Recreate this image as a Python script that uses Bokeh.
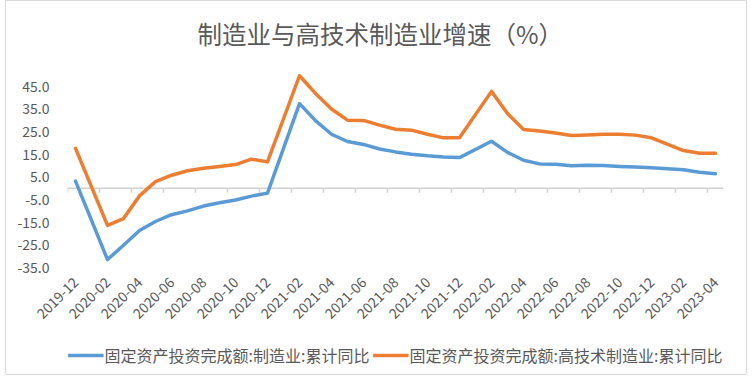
import math
from bokeh.plotting import figure
from bokeh.layouts import column
from bokeh.models import (FixedTicker, Legend, LegendItem, Range1d)
from bokeh.embed import file_html
from bokeh.resources import INLINE

title_text = "制造业与高技术制造业增速（%）"
series_names = ["固定资产投资完成额:制造业:累计同比", "固定资产投资完成额:高技术制造业:累计同比"]

months = [
    "2019-12",
    "2020-01", "2020-02", "2020-03", "2020-04", "2020-05", "2020-06",
    "2020-07", "2020-08", "2020-09", "2020-10", "2020-11", "2020-12",
    "2021-01", "2021-02", "2021-03", "2021-04", "2021-05", "2021-06",
    "2021-07", "2021-08", "2021-09", "2021-10", "2021-11", "2021-12",
    "2022-01", "2022-02", "2022-03", "2022-04", "2022-05", "2022-06",
    "2022-07", "2022-08", "2022-09", "2022-10", "2022-11", "2022-12",
    "2023-01", "2023-02", "2023-03", "2023-04",
]

manufacturing = [
    3.1,
    None, -31.5, -25.2, -18.7, -14.7, -11.7,
    -10.0, -7.9, -6.4, -5.2, -3.5, -2.2,
    None, 37.3, 29.8, 23.8, 20.6, 19.3,
    17.3, 16.0, 15.0, 14.3, 13.8, 13.5,
    None, 20.7, 15.8, 12.3, 10.7, 10.5,
    9.9, 10.1, 10.0, 9.6, 9.3, 9.0,
    None, 8.1, 7.0, 6.4,
]

hightech = [
    17.6,
    None, -16.4, -13.4, -3.4, 2.9, 5.7,
    7.7, 8.8, 9.6, 10.4, 12.8, 11.6,
    None, 49.6, 41.8, 34.9, 30.0, 29.9,
    27.8, 26.0, 25.6, 23.8, 22.2, 22.2,
    None, 42.7, 32.9, 25.9, 25.2, 24.3,
    23.2, 23.5, 23.8, 23.8, 23.4, 22.2,
    None, 16.6, 15.4, 15.4,
]

y_ticks = [-35, -25, -15, -5, 5, 15, 25, 35, 45]

blue = "#5B9BD5"
orange = "#ED7D31"
text_gray = "#595959"
axis_gray = "#D0D0D0"
font = "Noto Sans CJK SC"
colors = [blue, orange]


def present(vals):
    xs = [i for i, v in enumerate(vals) if v is not None]
    ys = [v for v in vals if v is not None]
    return xs, ys


n = len(months)
p = figure(width=740, height=335, output_backend="svg", toolbar_location=None,
           x_range=Range1d(-0.5, n - 0.5), y_range=Range1d(-35, 55),
           min_border_left=61, min_border_right=23, min_border_top=59, min_border_bottom=69)
p.outline_line_color = None
p.grid.visible = False
p.background_fill_color = "white"
p.border_fill_color = "white"

p.title.text = title_text
p.title.align = "left"
p.title.text_font = font
p.title.text_font_size = "24.5px"
p.title.text_font_style = "normal"
p.title.text_color = text_gray
p.title.offset = 130
p.title.standoff = 25

# category axis line at zero, with tick marks at every second category boundary
tick_pos = [i - 0.5 for i in range(0, n, 2)]
p.segment(x0=[-0.5], y0=[0], x1=[n - 0.5], y1=[0], line_color=axis_gray, line_width=1.5)
p.segment(x0=tick_pos, y0=[0] * len(tick_pos), x1=tick_pos, y1=[-2.0] * len(tick_pos),
          line_color=axis_gray, line_width=1.5)

series_xy = []
for vals, c in zip([manufacturing, hightech], colors):
    xs, ys = present(vals)
    series_xy.append((xs, ys))
    p.line(xs, ys, line_color=c, line_width=3.5, line_join="round", line_cap="round")

label_idx = list(range(0, n, 2))
p.xaxis.ticker = FixedTicker(ticks=label_idx)
p.xaxis.major_label_overrides = {i: months[i] for i in label_idx}
p.xaxis.major_label_orientation = math.pi / 4
p.xaxis.axis_line_color = None
p.xaxis.major_tick_line_color = None
p.xaxis.minor_tick_line_color = None
p.xaxis.major_label_text_font = font
p.xaxis.major_label_text_font_size = "14px"
p.xaxis.major_label_text_color = text_gray
p.xaxis.major_label_standoff = 6

p.yaxis.ticker = FixedTicker(ticks=y_ticks)
p.yaxis.major_label_overrides = {t: f"{t:.1f}" for t in y_ticks}
p.yaxis.axis_line_color = None
p.yaxis.major_tick_line_color = None
p.yaxis.minor_tick_line_color = None
p.yaxis.major_label_text_font = font
p.yaxis.major_label_text_font_size = "14px"
p.yaxis.major_label_text_color = text_gray
p.yaxis.major_label_standoff = 12

# legend strip (its lines carry the series data but lie outside its visible ranges)
lg = figure(width=740, height=38, output_backend="svg", toolbar_location=None,
            x_range=Range1d(-200, -199), y_range=Range1d(-200, -199),
            min_border=0)
lg.axis.visible = False
lg.grid.visible = False
lg.outline_line_color = None
lg.border_fill_color = "white"
lg.background_fill_color = "white"
items = []
for name, c, (xs, ys) in zip(series_names, colors, series_xy):
    r = lg.line(xs, ys, line_color=c, line_width=3.5)
    items.append(LegendItem(label=name, renderers=[r]))
legend = Legend(items=items, orientation="horizontal", location="center",
                label_text_font=font, label_text_font_size="16px", label_text_color=text_gray,
                glyph_width=36, glyph_height=16, spacing=3, label_standoff=1,
                border_line_color=None, background_fill_alpha=0, padding=1, margin=0)
lg.add_layout(legend, "center")

layout = column(p, lg, spacing=0,
                styles={"border": "1px solid #D9D9D9", "margin-left": "5px"})
open("out.html", "w").write(file_html(layout, INLINE))
